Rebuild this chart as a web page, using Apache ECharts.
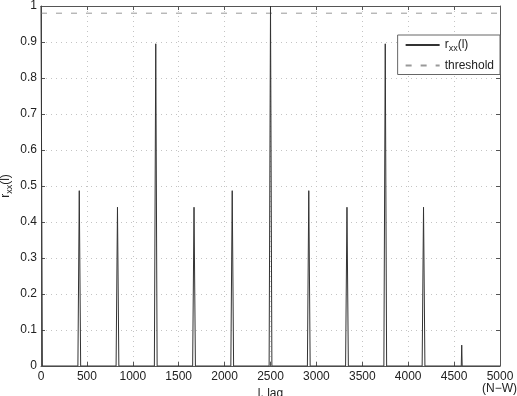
<!DOCTYPE html>
<html><head><meta charset="utf-8">
<script src="https://cdn.jsdelivr.net/npm/echarts@6/dist/echarts.min.js"></script>
<style>html,body{margin:0;padding:0;background:#fff}#c{width:517px;height:396px}</style>
</head><body><div id="c"></div>
<script>
// lag values (l) and autocorrelation r_xx(l)
var lags = [0, 15, 402, 417, 432, 818, 833, 848, 1235, 1250, 1265, 1652, 1667, 1682, 2068, 2083, 2098, 2485, 2500, 2515, 2902, 2917, 2932, 3318, 3333, 3348, 3735, 3750, 3765, 4152, 4167, 4182, 4578, 4583, 4588, 5000];
var rxx  = [1, 0, 0, 0.487, 0, 0, 0.441, 0, 0, 0.895, 0, 0, 0.441, 0, 0, 0.487, 0, 0, 1.0, 0, 0, 0.487, 0, 0, 0.441, 0, 0, 0.895, 0, 0, 0.441, 0, 0, 0.058, 0, 0];
var thresholdLags = [0, 5000];
var thresholdVals = [0.98, 0.98];
var xTicks = {min: 0, max: 5000, interval: 500};
var yTicks = {min: 0, max: 1, interval: 0.1};

var font = 'Liberation Sans, Arial, sans-serif';
var mainData = lags.map(function (l, i) { return [l, rxx[i]]; });
var thrData = thresholdLags.map(function (l, i) { return [l, thresholdVals[i]]; });
var axisCol = '#555';
var gridLine = {show: true, lineStyle: {color: '#c4c4c4', type: [1, 4], width: 1}};
var rich = {a: {fontSize: 12, fontFamily: font, color: '#222'},
            s: {fontSize: 9, fontFamily: font, color: '#222', padding: [8, 0, 0, 0]}};

var chart = echarts.init(document.getElementById('c'), null, {renderer: 'canvas'});
chart.setOption({
  animation: false,
  backgroundColor: '#fff',
  textStyle: {fontFamily: font},
  grid: {left: 41, right: 17, top: 6, bottom: 30, containLabel: false, outerBoundsMode: 'none'},
  legend: {
    show: true, orient: 'vertical', right: 17, top: 35,
    backgroundColor: '#fff', borderColor: '#666', borderWidth: 1,
    padding: [4, 6, 3, 7], itemGap: 6, itemWidth: 34, itemHeight: 12,
    itemStyle: {opacity: 0},
    textStyle: {fontFamily: font, fontSize: 12, color: '#222', rich: rich},
    formatter: function (n) { return n === 'rxx' ? '{a|r}{s|xx}{a|(l)}' : n; },
    data: ['rxx', 'threshold']
  },
  xAxis: [{
    type: 'value', min: xTicks.min, max: xTicks.max, interval: xTicks.interval,
    name: 'l, lag', nameLocation: 'middle', nameGap: 21,
    nameTextStyle: {fontFamily: font, fontSize: 12, color: '#222'},
    axisLine: {show: true, onZero: false, lineStyle: {color: axisCol}},
    axisTick: {show: true, inside: true, length: 4, lineStyle: {color: axisCol}},
    axisLabel: {fontFamily: font, fontSize: 12, color: '#222', margin: 5,
      formatter: function (v) { return String(v); }},
    splitLine: gridLine
  }, {
    type: 'value', position: 'top', min: xTicks.min, max: xTicks.max, interval: xTicks.interval,
    axisLine: {show: true, onZero: false, lineStyle: {color: axisCol}},
    axisTick: {show: true, inside: true, length: 4, lineStyle: {color: axisCol}},
    axisLabel: {show: false}, splitLine: {show: false}
  }],
  yAxis: [{
    type: 'value', min: yTicks.min, max: yTicks.max, interval: yTicks.interval,
    name: '{a|r}{s|xx}{a|(l)}', nameLocation: 'middle', nameGap: 27, nameRotate: 90,
    nameMoveOverlap: false,
    nameTextStyle: {rich: rich},
    axisLine: {show: true, onZero: false, lineStyle: {color: axisCol}},
    axisTick: {show: true, inside: true, length: 4, lineStyle: {color: axisCol}},
    axisLabel: {fontFamily: font, fontSize: 12, color: '#222', margin: 4,
      formatter: function (v) { return String(Math.round(v * 10) / 10); }},
    splitLine: gridLine
  }, {
    type: 'value', position: 'right', min: yTicks.min, max: yTicks.max, interval: yTicks.interval,
    axisLine: {show: true, onZero: false, lineStyle: {color: axisCol}},
    axisTick: {show: true, inside: true, length: 4, lineStyle: {color: axisCol}},
    axisLabel: {show: false}, splitLine: {show: false}
  }],
  graphic: [{type: 'text', right: 0, top: 383,
    style: {text: '(N\u2212W)', fontFamily: font, fontSize: 12, fill: '#222'}}],
  series: [{
    name: 'rxx', type: 'line', data: mainData, symbol: 'none', showSymbol: false,
    lineStyle: {color: '#333', width: 1}, itemStyle: {color: '#333'}, z: 3
  }, {
    name: 'threshold', type: 'line', data: thrData, symbol: 'none', showSymbol: false,
    lineStyle: {color: '#999', width: 1, type: [6, 9]}, itemStyle: {color: '#999'}, z: 2
  }]
});
</script></body></html>
